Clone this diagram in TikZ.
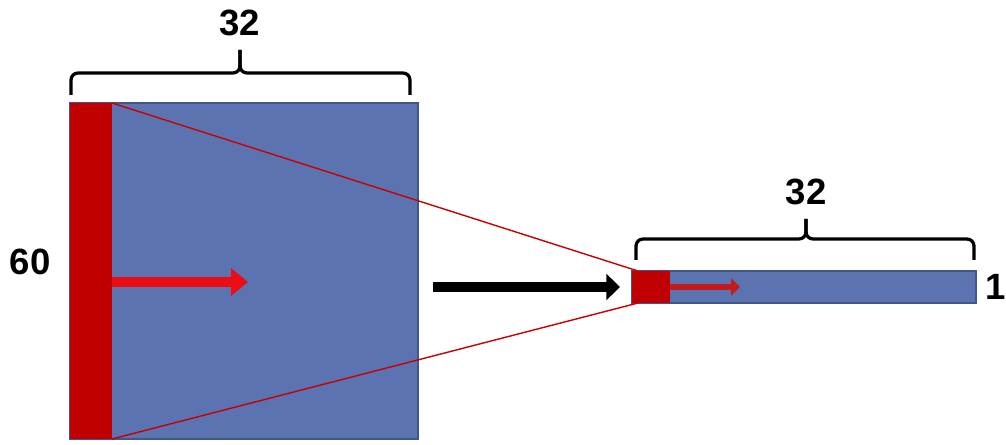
\documentclass[tikz,border=0pt]{standalone}
\usepackage{fontspec}
\setmainfont{Liberation Sans}
\usetikzlibrary{arrows.meta,positioning}
\definecolor{gridblue}{RGB}{92,115,178}
\definecolor{gridedge}{RGB}{66,86,140}
\definecolor{kernelred}{RGB}{192,0,0}
\definecolor{sweepred}{RGB}{235,12,20}
\tikzset{
  gridbox/.style={draw=gridedge,line width=1pt,fill=gridblue,inner sep=0pt,outer sep=0pt},
  kernelbox/.style={fill=kernelred,inner sep=0pt,outer sep=0pt},
  dimlabel/.style={font=\fontsize{26}{30}\selectfont\bfseries,inner sep=0pt},
  dimbrace/.style={line width=2.3pt,rounded corners=5pt},
  fieldline/.style={kernelred!85!red,line width=1pt},
  % arrows for the sweep and the reduction
  sweeparr/.style={-{Triangle[length=4.2mm,width=6.6mm]},line width=2.3mm,sweepred},
  cellarr/.style={-{Triangle[length=2.2mm,width=4.2mm]},line width=1.7mm,kernelred!90!white},
  passarr/.style={-{Triangle[length=3.4mm,width=6.4mm]},line width=2.6mm,black}
}

\begin{document}
\begin{tikzpicture}
  \useasboundingbox (0,0) rectangle (25.15,-11.125);

  % input map and its first column
  \node[gridbox,minimum width=8.7cm,minimum height=8.4cm] (grid) at (6.1,-6.775) {};
  \node[kernelbox,minimum width=1.05cm,minimum height=8.4cm,anchor=west] (col) at (grid.west) {};
  \node[dimlabel,left=0.48cm of col,yshift=0.22cm] (gridh) {60};

  % reduced strip
  \node[gridbox,minimum width=8.6cm,minimum height=0.8cm] (strip) at (20.1,-7.175) {};
  \node[kernelbox,minimum width=0.95cm,minimum height=0.8cm,anchor=west] (cell) at (strip.west) {};
  \node[dimlabel,right=0.22cm of strip] (striph) {1};

  % braces with widths
  \draw[dimbrace] (1.775,-2.375) -- (1.775,-1.825) -- (6.0,-1.825) -- (6.0,-1.25) coordinate (gridtick);
  \draw[dimbrace] (10.25,-2.375) -- (10.25,-1.825) -- (6.0,-1.825) -- (6.0,-1.25);
  \node[dimlabel,above=0.35cm of gridtick] (gridw) {32};
  \draw[dimbrace] (15.9,-6.5) -- (15.9,-5.975) -- (20.15,-5.975) -- (20.15,-5.475) coordinate (striptick);
  \draw[dimbrace] (24.35,-6.5) -- (24.35,-5.975) -- (20.15,-5.975) -- (20.15,-5.475);
  \node[dimlabel,above=0.35cm of striptick] (stripw) {32};

  % column collapses into one cell
  \draw[fieldline] (col.north east) -- ([xshift=0.15cm]cell.north west);
  \draw[fieldline] (col.south east) -- ([xshift=0.15cm]cell.south west);

  \coordinate (sweep) at (6.2,-7.05);
  \draw[sweeparr] (col.east |- sweep) -- (sweep);
  \coordinate (cellend) at ([xshift=1.75cm]cell.east);
  \draw[cellarr] (cell.east) -- (cellend);
  \draw[passarr,shorten <=0.375cm,shorten >=0.3cm] (grid.east |- strip) -- (cell.west);
\end{tikzpicture}
\end{document}
